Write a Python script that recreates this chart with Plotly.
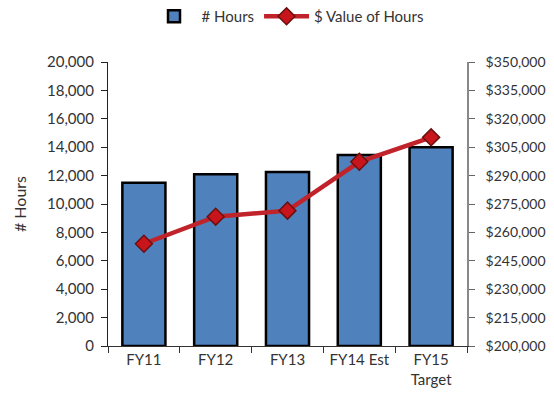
import plotly.graph_objects as go

categories = ["FY11", "FY12", "FY13", "FY14 Est", "FY15<br>Target"]
hours = [11500, 12100, 12250, 13450, 14000]
value_of_hours = [254000, 268300, 271500, 297300, 310200]

font_family = "Lato, 'Open Sans', sans-serif"

fig = go.Figure()
fig.add_trace(go.Bar(
    x=categories, y=hours, name="# Hours",
    marker=dict(color="#4F81BD", line=dict(color="black", width=2.5)),
    width=0.6,
))
fig.add_trace(go.Scatter(
    x=categories, y=value_of_hours, name="$ Value of Hours", yaxis="y2",
    mode="lines+markers",
    line=dict(color="#C0232A", width=4.5),
    marker=dict(symbol="diamond", size=13, color="#C8151B",
                line=dict(color="#6B1010", width=1.5)),
))

fig.update_layout(
    width=554, height=400,
    margin=dict(l=108, r=87, t=62, b=54, autoexpand=False),
    paper_bgcolor="white", plot_bgcolor="white",
    font=dict(family=font_family, size=15, color="#333333"),
    showlegend=True,
    legend=dict(orientation="h", x=0.50, xanchor="center", y=1.16, yanchor="middle",
                font=dict(size=15), itemwidth=45, tracegroupgap=0),
    bargap=0.4,
    xaxis=dict(type="category", showline=True, linecolor="#333333", linewidth=1,
               ticks="outside", tickson="boundaries", ticklen=6, tickcolor="#333333",
               showgrid=False, zeroline=False, automargin=False,
               tickfont=dict(size=15)),
    yaxis=dict(range=[0, 20000], dtick=2000, tick0=0, tickformat=",d", showline=True,
               linecolor="#222222", linewidth=1.2, ticks="outside", ticklen=6,
               tickcolor="#222222", showgrid=False, zeroline=False, automargin=False,
               tickfont=dict(size=15), ticklabelstandoff=4,
               title=dict(text="# Hours", standoff=16, font=dict(size=16))),
    yaxis2=dict(range=[200000, 350000], dtick=15000, tick0=200000, tickformat=",d",
                tickprefix="$", overlaying="y", side="right", showline=True,
                linecolor="#888888", linewidth=1.5, ticks="outside", ticklen=6,
                tickcolor="#666666", showgrid=False, zeroline=False, automargin=False,
                tickfont=dict(size=14), ticklabelstandoff=8),
)

fig.write_html("out.html", config={"displayModeBar": False},
               post_script="document.body.style.margin='0';")
